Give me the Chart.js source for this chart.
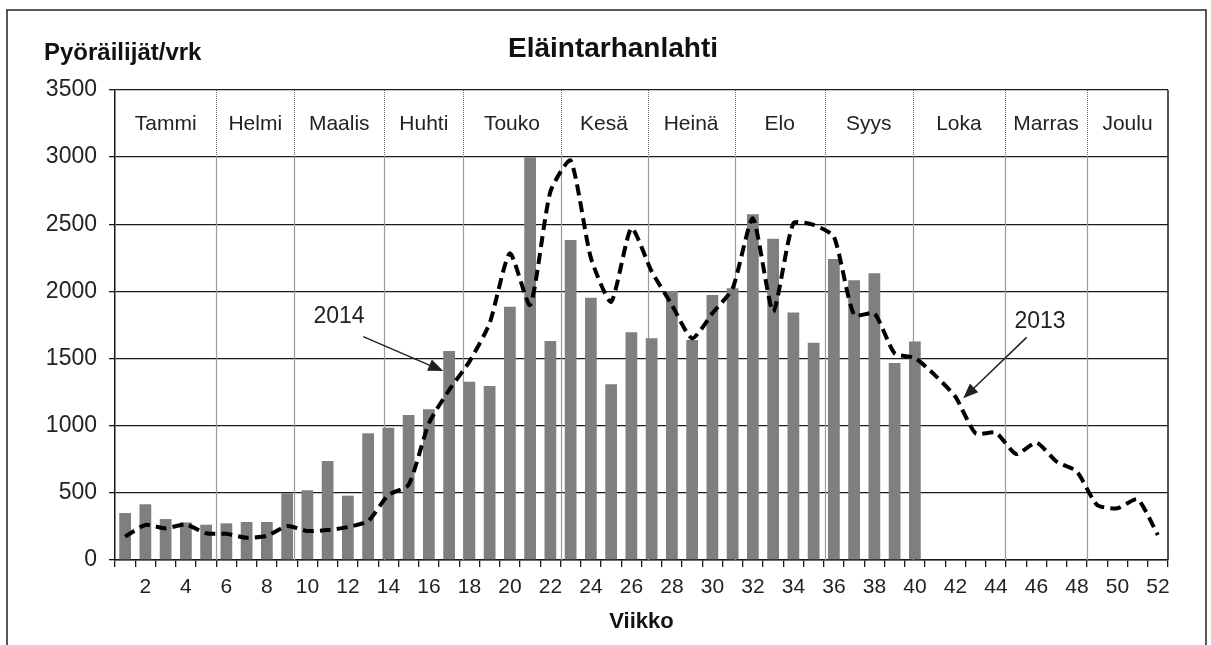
<!DOCTYPE html>
<html>
<head>
<meta charset="utf-8">
<script src="https://cdn.jsdelivr.net/npm/chart.js@4"></script>
<style>
  body { margin: 0; background: #fff; }
</style>
</head>
<body>
<canvas id="chart" width="1211" height="645"></canvas>
<script>
// weeks 1..52
const weeks = ["1","2","3","4","5","6","7","8","9","10","11","12","13","14","15","16","17","18","19","20",
  "21","22","23","24","25","26","27","28","29","30","31","32","33","34","35","36","37","38","39","40",
  "41","42","43","44","45","46","47","48","49","50","51","52"];

// 2014 bars (weeks 1-40)
const bars2014 = [350, 415, 305, 280, 263, 273, 283, 283, 497, 519,
  737, 479, 943, 985, 1080, 1122, 1556, 1328, 1296, 1886,
  3000, 1631, 2383, 1953, 1308, 1696, 1651, 2003, 1638, 1973,
  2023, 2574, 2393, 1844, 1618, 2241, 2083, 2135, 1467, 1628];

// 2013 dashed line
const line2013 = [174, 261, 236, 265, 199, 195, 165, 180, 253, 216,
  223, 245, 290, 484, 560, 1018, 1266, 1477, 1763, 2284,
  1899, 2743, 2974, 2250, 1923, 2470, 2150, 1900, 1650, 1837,
  2023, 2544, 1849, 2507, 2495, 2408, 1824, 1837, 1539, 1504,
  1375, 1216, 943, 948, 789, 874, 732, 658, 410, 385, 452, 186];

const months = ["Tammi", "Helmi", "Maalis", "Huhti", "Touko", "Kesä", "Heinä", "Elo", "Syys", "Loka", "Marras", "Joulu"];
// month boundaries, in weeks from the start of the year
const monthEdges = [5.0, 8.85, 13.3, 17.2, 22.0, 26.3, 30.6, 35.05, 39.4, 43.95, 48.0];

const yTicks = [0, 500, 1000, 1500, 2000, 2500, 3000, 3500];

const font = '"Liberation Sans", Arial, sans-serif';
Chart.defaults.font.family = font;
Chart.defaults.color = "#111";

function arrow(ctx, x1, y1, x2, y2) {
  const a = Math.atan2(y2 - y1, x2 - x1);
  const len = 15, w = 6;
  ctx.beginPath();
  ctx.moveTo(x1, y1);
  ctx.lineTo(x2 - Math.cos(a) * len * 0.8, y2 - Math.sin(a) * len * 0.8);
  ctx.stroke();
  ctx.beginPath();
  ctx.moveTo(x2, y2);
  ctx.lineTo(x2 - Math.cos(a) * len - Math.sin(a) * w, y2 - Math.sin(a) * len + Math.cos(a) * w);
  ctx.lineTo(x2 - Math.cos(a) * len + Math.sin(a) * w, y2 - Math.sin(a) * len - Math.cos(a) * w);
  ctx.closePath();
  ctx.fill();
}

const decor = {
  id: "decor",
  beforeDraw(chart) {
    const ctx = chart.ctx;
    ctx.save();
    ctx.fillStyle = "#fff";
    ctx.fillRect(0, 0, chart.width, chart.height);
    ctx.strokeStyle = "#222";
    ctx.lineWidth = 1.5;
    ctx.strokeRect(7, 10, 1199, 700);
    ctx.restore();
  },
  beforeDatasetsDraw(chart) {
    const ctx = chart.ctx, x = chart.scales.x, y = chart.scales.y;
    const top = y.getPixelForValue(3500), band = y.getPixelForValue(3000), bottom = y.getPixelForValue(0);
    ctx.save();
    monthEdges.forEach(e => {
      const px = Math.round(x.getPixelForValue(e - 0.5)) + 0.5;
      ctx.strokeStyle = "#666";
      ctx.lineWidth = 1;
      ctx.setLineDash([1, 1]);
      ctx.beginPath();
      ctx.moveTo(px, top);
      ctx.lineTo(px, band);
      ctx.stroke();
      ctx.setLineDash([]);
      ctx.strokeStyle = "#9a9a9a";
      ctx.lineWidth = 1.2;
      ctx.beginPath();
      ctx.moveTo(px, band);
      ctx.lineTo(px, bottom);
      ctx.stroke();
    });
    const edges = [0].concat(monthEdges, [52]);
    ctx.fillStyle = "#222";
    ctx.font = "21px " + font;
    ctx.textAlign = "center";
    ctx.textBaseline = "middle";
    months.forEach((m, i) => {
      const c = (edges[i] + edges[i + 1]) / 2;
      ctx.fillText(m, x.getPixelForValue(c - 0.5), (top + band) / 2 + 1);
    });
    ctx.restore();
  },
  afterDraw(chart) {
    const ctx = chart.ctx, x = chart.scales.x, y = chart.scales.y, a = chart.chartArea;
    ctx.save();
    ctx.strokeStyle = "#1a1a1a";
    ctx.lineWidth = 1.5;
    ctx.beginPath();
    ctx.moveTo(a.right, a.top);
    ctx.lineTo(a.right, a.bottom);
    ctx.stroke();

    ctx.fillStyle = "#111";
    ctx.font = "bold 28px " + font;
    ctx.textAlign = "center";
    ctx.textBaseline = "alphabetic";
    ctx.fillText("Eläintarhanlahti", 613, 57);
    ctx.font = "bold 24px " + font;
    ctx.textAlign = "left";
    ctx.fillText("Pyöräilijät/vrk", 44, 60);

    // series annotations
    ctx.font = "23px " + font;
    ctx.textAlign = "center";
    ctx.textBaseline = "middle";
    ctx.fillStyle = "#222";
    ctx.fillText("2014", x.getPixelForValue(10.56), y.getPixelForValue(1810));
    ctx.fillText("2013", x.getPixelForValue(45.18), y.getPixelForValue(1772));
    ctx.strokeStyle = "#222";
    ctx.lineWidth = 1.5;
    arrow(ctx, x.getPixelForValue(11.76), y.getPixelForValue(1663), x.getPixelForValue(15.71), y.getPixelForValue(1407));
    arrow(ctx, x.getPixelForValue(44.52), y.getPixelForValue(1658), x.getPixelForValue(41.39), y.getPixelForValue(1204));
    ctx.restore();
  }
};

new Chart(document.getElementById("chart"), {
  type: "bar",
  data: {
    labels: weeks,
    datasets: [
      {
        type: "line",
        label: "2013",
        data: line2013,
        borderColor: "#000",
        borderWidth: 4,
        borderDash: [11, 6],
        pointRadius: 0,
        tension: 0.2,
        fill: false,
        order: 0
      },
      {
        label: "2014",
        data: bars2014,
        backgroundColor: "#7f7f7f",
        barPercentage: 0.58,
        categoryPercentage: 1.0,
        order: 1
      }
    ]
  },
  options: {
    responsive: false,
    animation: false,
    layout: { padding: { left: 0, top: 90, right: 43, bottom: 0 } },
    plugins: {
      legend: { display: false },
      tooltip: { enabled: false },
      title: { display: false }
    },
    scales: {
      x: {
        offset: true,
        grid: { display: true, offset: true, drawOnChartArea: false, drawTicks: true, tickLength: 7, color: "#1a1a1a", lineWidth: 1.3 },
        border: { display: true, color: "#1a1a1a", width: 1.5 },
        ticks: {
          autoSkip: false,
          maxRotation: 0,
          padding: 8,
          font: { size: 21 },
          color: "#222",
          callback: (v, i) => ((i + 1) % 2 === 0 ? weeks[i] : "")
        },
        title: { display: true, text: "Viikko", font: { size: 22, weight: "bold" }, color: "#111", padding: { top: 0, bottom: 10 } },
        afterFit: s => { s.height = 85; }
      },
      y: {
        min: 0,
        max: 3500,
        afterBuildTicks: s => { s.ticks = yTicks.map(v => ({ value: v })); },
        grid: { color: "#1a1a1a", lineWidth: 1.3, tickLength: 6 },
        border: { display: true, color: "#1a1a1a", width: 1.5 },
        ticks: { font: { size: 23 }, color: "#222", padding: 12, callback: v => String(v) },
        afterFit: s => { s.width = 115; }
      }
    }
  },
  plugins: [decor]
});
</script>
</body>
</html>
